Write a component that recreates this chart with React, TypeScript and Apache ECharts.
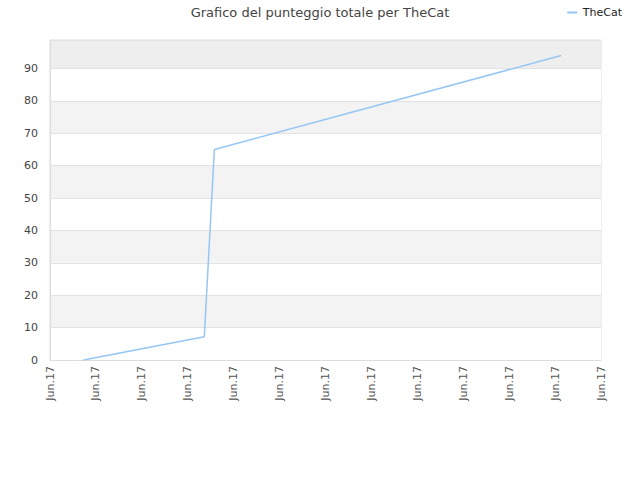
import { useEffect, useRef } from 'react';
import * as echarts from 'echarts';

const seriesName = 'TheCat';
const xValues = [0.73, 3.36, 3.58, 11.13];
const yValues = [0, 7.2, 65, 94];
const xTickLabel = 'Jun.17';
const yMax = 98.8;

export default function App() {
  const chartRef = useRef<HTMLDivElement>(null);

  useEffect(() => {
    if (!chartRef.current) return;
    document.body.style.margin = '0';
    const chart = echarts.init(chartRef.current, null, { renderer: 'svg' });

    const option: echarts.EChartsOption = {
      animation: false,
      textStyle: { fontFamily: 'DejaVu Sans' },
      title: {
        text: 'Grafico del punteggio totale per TheCat',
        left: 'center',
        top: 1,
        textStyle: { fontSize: 13, fontWeight: 'normal', color: '#444' }
      },
      legend: {
        right: 13,
        top: 2,
        icon: 'path://M0,0 L10,0 L10,2 L0,2 Z',
        itemWidth: 11,
        itemHeight: 2,
        textStyle: { fontSize: 11, color: '#222' },
        data: [seriesName]
      },
      grid: {
        left: 50,
        right: 39,
        top: 40,
        bottom: 120,
        show: true,
        borderColor: '#ddd',
        borderWidth: 1
      },
      xAxis: {
        type: 'value',
        min: 0,
        max: 12,
        interval: 1,
        axisLine: { lineStyle: { color: '#ddd' } },
        axisTick: { show: false },
        splitLine: { show: false },
        axisLabel: {
          rotate: 90,
          fontSize: 11,
          color: '#555',
          margin: 6,
          formatter: () => xTickLabel
        }
      },
      yAxis: {
        type: 'value',
        min: 0,
        max: yMax,
        interval: 10,
        axisLine: { show: true, lineStyle: { color: '#ddd' } },
        axisTick: { show: false },
        axisLabel: {
          fontSize: 11,
          color: '#444',
          margin: 12,
          showMaxLabel: false,
          formatter: (v: number) => (v % 10 === 0 ? String(v) : '')
        },
        splitLine: { lineStyle: { color: '#e2e2e2' } },
        splitArea: {
          show: true,
          areaStyle: { color: ['#ffffff', '#f3f3f3', '#ffffff', '#f3f3f3', '#ffffff', '#f3f3f3', '#ffffff', '#f3f3f3', '#ffffff', '#eeeeee'] }
        }
      },
      series: [
        {
          name: seriesName,
          type: 'line',
          data: xValues.map((x, i) => [x, yValues[i]]),
          showSymbol: false,
          symbol: 'none',
          lineStyle: { color: '#96c6f4', width: 1.5 },
          itemStyle: { color: '#96c6f4' }
        }
      ]
    };

    chart.setOption(option);
    return () => chart.dispose();
  }, []);

  return <div ref={chartRef} style={{ width: 640, height: 480 }} />;
}
